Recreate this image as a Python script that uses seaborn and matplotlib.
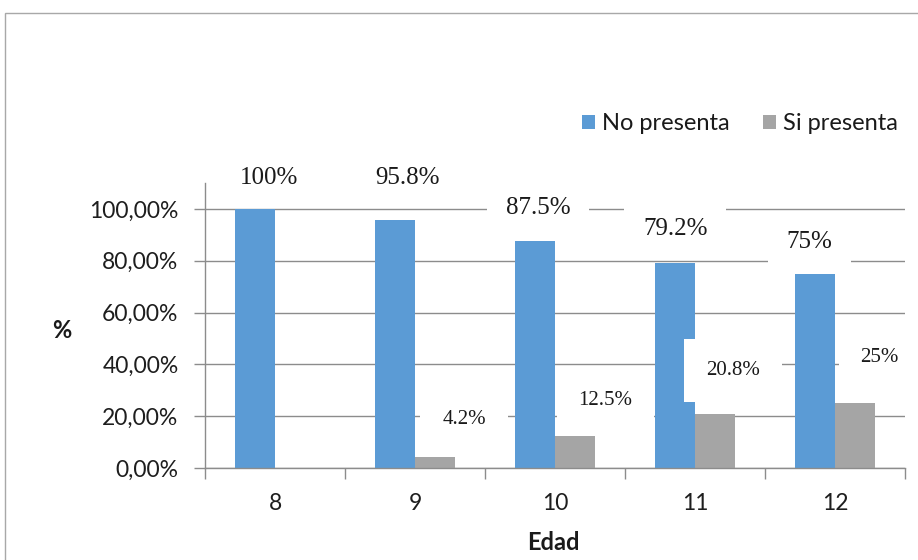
import matplotlib
matplotlib.use("Agg")
import matplotlib.pyplot as plt
import seaborn as sns
import pandas as pd
from matplotlib.patches import Rectangle, Patch

# Data
edades = ["8", "9", "10", "11", "12"]
no_presenta = [100, 95.8, 87.5, 79.2, 75]
si_presenta = [0, 4.2, 12.5, 20.8, 25]
series = ["No presenta", "Si presenta"]
colores = ["#5B9BD5", "#A5A5A5"]
y_ticks = [0, 20, 40, 60, 80, 100]
y_tick_labels = ["0,00%", "20,00%", "40,00%", "60,00%", "80,00%", "100,00%"]

# Label placement (data coordinates) for each series
pos_no = [(-0.04, 112.0), (0.95, 112.0), (1.88, 100.4), (2.86, 92.3), (3.82, 87.3)]
pos_si = [None, (1.35, 18.9), (2.36, 25.9), (3.27, 37.5), (4.32, 42.5)]

df = pd.DataFrame({
    "Edad": edades * 2,
    "valor": no_presenta + si_presenta,
    "serie": [series[0]] * len(edades) + [series[1]] * len(edades),
})

sns.set_theme(style="white")
plt.rcParams["font.family"] = ["Lato", "DejaVu Sans"]

W, H = 918, 560
fig = plt.figure(figsize=(W / 100, H / 100), dpi=100)
ax = fig.add_axes([205 / W, 92 / H, 700 / W, 285 / H])

sns.barplot(data=df, x="Edad", y="valor", hue="serie", order=edades,
            hue_order=series, palette=colores, width=0.571, gap=0,
            saturation=1, linewidth=0, errorbar=None, ax=ax)

grid_c = "#8c8c8c"
ax.set_xlim(-0.5, len(edades) - 0.5)
ax.set_ylim(0, 110)
ax.set_axisbelow(True)
ax.yaxis.grid(True, color=grid_c, lw=1)
ax.xaxis.grid(False)
for s in ["top", "right"]:
    ax.spines[s].set_visible(False)
for s in ["left", "bottom"]:
    ax.spines[s].set_color(grid_c)
    ax.spines[s].set_linewidth(1)

ax.set_yticks(y_ticks)
ax.set_yticklabels(y_tick_labels)
ax.tick_params(axis="y", left=True, length=8, width=1, color=grid_c,
               pad=11, labelsize=16.5, labelcolor="#1e1e1e")

# category boundaries get tick marks, centers carry the labels
ax.set_xticks([i - 0.5 for i in range(len(edades) + 1)])
ax.set_xticklabels([])
ax.set_xticks(range(len(edades)), minor=True)
ax.set_xticklabels(edades, minor=True)
ax.tick_params(axis="x", which="major", bottom=True, length=8, width=1,
               color=grid_c)
ax.tick_params(axis="x", which="minor", bottom=False, length=0, pad=18,
               labelsize=16.5, labelcolor="#1e1e1e")
ax.set_xlabel("")
ax.set_ylabel("")

# value labels on white boxes
box = dict(facecolor="white", edgecolor="none", boxstyle="square,pad=0.75")
for v, p in zip(no_presenta, pos_no):
    ax.text(p[0], p[1], f"{v:g}%", ha="center", va="center",
            family="Liberation Serif", fontsize=18, color="#1a1a1a",
            bbox=box, zorder=5, clip_on=False)
box2 = dict(facecolor="white", edgecolor="none", boxstyle="square,pad=1.05")
for v, p in zip(si_presenta, pos_si):
    if p is None:
        continue
    ax.text(p[0], p[1], f"{v:g}%", ha="center", va="center",
            family="Liberation Serif", fontsize=15, color="#1a1a1a",
            bbox=box2, zorder=5, clip_on=False)

# legend
if ax.get_legend() is not None:
    ax.get_legend().remove()
handles = [Patch(facecolor=c, edgecolor="none", label=s)
           for c, s in zip(colores, series)]
fig.legend(handles=handles, loc="center right",
           bbox_to_anchor=(898 / W, 1 - 124 / H), ncol=2, frameon=False,
           handlelength=0.55, handleheight=0.55, handletextpad=0.3,
           columnspacing=1.4, borderpad=0, borderaxespad=0,
           prop={"size": 17}, labelcolor="#1a1a1a")

fig.text(62 / W, 1 - 330 / H, "%", ha="center", va="center",
         fontsize=17, fontweight="bold", color="#1a1a1a")
fig.text(553 / W, 1 - 543 / H, "Edad", ha="center", va="center",
         fontsize=17, fontweight="bold", color="#1a1a1a")

# outer chart frame
fig.patches.append(Rectangle((5 / W, -0.2), 2, 1.2 - 13 / H,
                             transform=fig.transFigure, fill=False,
                             edgecolor="#a8a8a8", lw=1))

fig.savefig("out.png", dpi=100)
